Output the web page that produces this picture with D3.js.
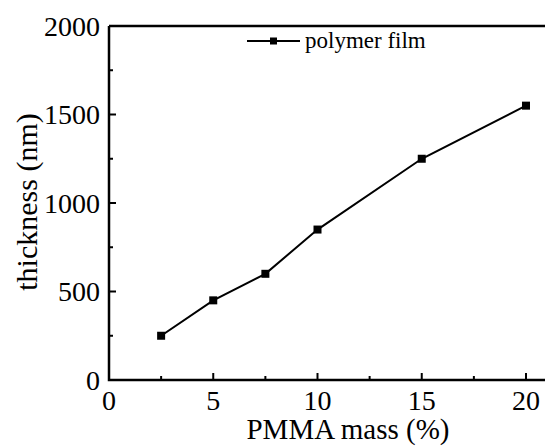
<!DOCTYPE html>
<html><head><meta charset="utf-8">
<script src="https://cdn.jsdelivr.net/npm/d3@7"></script>
<style>body{margin:0;background:#fff}svg{display:block}text{font-family:"Liberation Serif","Times New Roman",serif;fill:#000}</style>
</head><body>
<script>
const massPct = [2.5, 5, 7.5, 10, 15, 20];
const thickness = [250, 450, 600, 850, 1250, 1550];
const xTicks = [0, 5, 10, 15, 20];
const yTicks = [0, 500, 1000, 1500, 2000];
const seriesName = "polymer film";

const W = 545, H = 446;
const svg = d3.select("body").append("svg").attr("width", W).attr("height", H);
const L = 109, T = 26, B = 380;
const x = d3.scaleLinear().domain([0, 20]).range([L, 526]);
const y = d3.scaleLinear().domain([0, 2000]).range([B, T]);
const xEnd = x(21);

const g = svg.append("g");
d3.range(2.5, 21, 5).forEach(v => g.append("line").attr("x1", x(v)).attr("x2", x(v)).attr("y1", B).attr("y2", B - 4).attr("stroke", "#000").attr("stroke-width", 2));
xTicks.forEach(v => g.append("line").attr("x1", x(v)).attr("x2", x(v)).attr("y1", B).attr("y2", B - 7).attr("stroke", "#000").attr("stroke-width", 2));
d3.range(250, 2000, 500).forEach(v => g.append("line").attr("y1", y(v)).attr("y2", y(v)).attr("x1", L).attr("x2", L + 4).attr("stroke", "#000").attr("stroke-width", 2));
yTicks.forEach(v => g.append("line").attr("y1", y(v)).attr("y2", y(v)).attr("x1", L).attr("x2", L + 7).attr("stroke", "#000").attr("stroke-width", 2));

svg.append("path").attr("d", `M${L},${T}V${B}H${xEnd}`).attr("fill", "none").attr("stroke", "#000").attr("stroke-width", 2.5);
svg.append("line").attr("x1", L).attr("x2", xEnd).attr("y1", T).attr("y2", T).attr("stroke", "#000").attr("stroke-width", 2.5);

xTicks.forEach(v => svg.append("text").attr("x", x(v)).attr("y", 410).attr("text-anchor", "middle").attr("font-size", 28).text(v));
yTicks.forEach(v => svg.append("text").attr("x", 100).attr("y", y(v) + 9.5).attr("text-anchor", "end").attr("font-size", 28).text(v));

svg.append("text").attr("x", 348).attr("y", 439).attr("text-anchor", "middle").attr("font-size", 29).text("PMMA mass (%)");
svg.append("text").attr("transform", `translate(37,202) rotate(-90)`).attr("text-anchor", "middle").attr("font-size", 30).text("thickness (nm)");

const data = massPct.map((m, i) => ({m, t: thickness[i]}));
svg.append("path").datum(data).attr("d", d3.line().x(d => x(d.m)).y(d => y(d.t))).attr("fill", "none").attr("stroke", "#000").attr("stroke-width", 2);
svg.selectAll("rect.pt").data(data).enter().append("rect").attr("class", "pt")
  .attr("x", d => x(d.m) - 4).attr("y", d => y(d.t) - 4).attr("width", 8).attr("height", 8).attr("fill", "#000");

svg.append("line").attr("x1", 247).attr("x2", 300).attr("y1", 41).attr("y2", 41).attr("stroke", "#000").attr("stroke-width", 2);
svg.append("rect").attr("x", 270).attr("y", 37.5).attr("width", 7).attr("height", 7).attr("fill", "#000");
svg.append("text").attr("x", 305).attr("y", 48).attr("font-size", 23).text(seriesName);
</script>
</body></html>
